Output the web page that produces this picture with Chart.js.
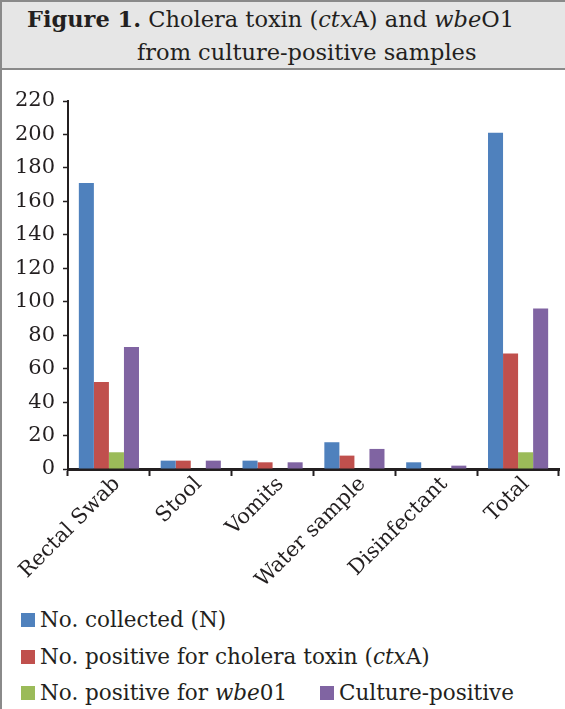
<!DOCTYPE html>
<html>
<head>
<meta charset="utf-8">
<script src="https://cdn.jsdelivr.net/npm/chart.js@4/dist/chart.umd.min.js"></script>
<style>
  html, body { margin: 0; padding: 0; background: #fff; }
  #frame {
    position: relative; width: 563px; height: 707px;
    border-left: 2px solid #8a8a8a; border-top: 2px solid #8a8a8a;
    font-family: 'DejaVu Serif', 'Liberation Serif', serif; color: #231f20;
  }
  #title {
    position: absolute; left: 0; top: 0; width: 563px; height: 66px;
    background: #e6e6e6; border-bottom: 2px solid #8a8a8a;
    font-size: 22.5px; line-height: 30px;
  }
  #title .l1 { position: absolute; left: 25px; top: 2px; white-space: nowrap; }
  #title .l2 { position: absolute; left: 135px; top: 35px; white-space: nowrap; }
  #chartBox { position: absolute; left: -2px; top: 68px; width: 565px; height: 530px; }
  #legend { position: absolute; left: 0; top: 602px; width: 563px; font-size: 21.5px; }
  .row { position: absolute; left: 0; height: 30px; white-space: nowrap; }
  .item { position: absolute; top: 0; line-height: 30px; }
  .sw { position: absolute; left: 0; top: 8px; width: 14px; height: 14px; }
  .txt { position: absolute; left: 19px; top: 0; }
</style>
</head>
<body>
<div id="frame">
  <div id="title">
    <div class="l1"><b>Figure 1.</b> Cholera toxin (<i>ctx</i>A) and <i>wbe</i>O1</div>
    <div class="l2">from culture-positive samples</div>
  </div>
  <div id="chartBox"><canvas id="c" width="565" height="530"></canvas></div>
  <div id="legend"></div>
</div>
<script>
// Sample types on the x axis
const categories = ['Rectal Swab', 'Stool', 'Vomits', 'Water sample', 'Disinfectant', 'Total'];

// Counts per sample type
const collected      = [171, 5, 5, 16, 4, 201];
const ctxPositive    = [52, 5, 4, 8, 0, 69];
const wbePositive    = [10, 0, 0, 0, 0, 10];
const culturePositive = [73, 5, 4, 12, 2, 96];

// Series names (italic gene names marked with <i>)
const seriesNames = [
  'No. collected (N)',
  'No. positive for cholera toxin (<i>ctx</i>A)',
  'No. positive for <i>wbe</i>01',
  'Culture-positive'
];
const seriesColors = ['#4f81bd', '#c0504d', '#9bbb59', '#8064a2'];

// Y axis tick values
const yTicks = [0, 20, 40, 60, 80, 100, 120, 140, 160, 180, 200, 220];

const seriesValues = [collected, ctxPositive, wbePositive, culturePositive];
const stripTags = s => s.replace(/<[^>]+>/g, '');

const FONT = "'DejaVu Serif', 'Liberation Serif', serif";
const INK = '#231f20';

new Chart(document.getElementById('c'), {
  type: 'bar',
  data: {
    labels: categories,
    datasets: seriesValues.map((vals, i) => ({
      label: stripTags(seriesNames[i]),
      data: vals,
      backgroundColor: seriesColors[i],
      borderWidth: 0,
      barPercentage: 1,
      categoryPercentage: 0.735
    }))
  },
  options: {
    responsive: false,
    animation: false,
    layout: { padding: { top: 31, right: 6, left: 0, bottom: 0 } },
    plugins: { legend: { display: false }, tooltip: { enabled: false } },
    scales: {
      x: {
        offset: true,
        grid: { offset: true, drawOnChartArea: false, tickLength: 7, tickWidth: 2, color: INK },
        border: { color: INK, width: 3 },
        ticks: {
          color: INK, font: { family: FONT, size: 21 },
          maxRotation: 45, minRotation: 45, padding: -4, labelOffset: 8, autoSkip: false
        },
        afterFit: s => { s.height = 131; }
      },
      y: {
        min: 0, max: 220,
        afterBuildTicks: s => { s.ticks = yTicks.map(v => ({ value: v })); },
        grid: { drawOnChartArea: false, tickLength: 5, tickWidth: 1.5, color: INK },
        border: { color: INK, width: 2 },
        ticks: { color: INK, font: { family: FONT, size: 21 }, padding: 8 },
        afterFit: s => { s.width = 68; }
      }
    }
  }
});

// Legend rows below the plot
const legendRows = [
  [{ i: 0, x: 19 }],
  [{ i: 1, x: 19 }],
  [{ i: 2, x: 19 }, { i: 3, x: 318 }]
];
const rowTops = [1, 38, 74];
const legend = document.getElementById('legend');
legendRows.forEach((row, r) => {
  const rowEl = document.createElement('div');
  rowEl.className = 'row';
  rowEl.style.top = rowTops[r] + 'px';
  row.forEach(it => {
    const item = document.createElement('div');
    item.className = 'item';
    item.style.left = it.x + 'px';
    item.innerHTML = '<span class="sw" style="background:' + seriesColors[it.i] + '"></span>' +
                     '<span class="txt">' + seriesNames[it.i] + '</span>';
    rowEl.appendChild(item);
  });
  legend.appendChild(rowEl);
});
</script>
</body>
</html>
